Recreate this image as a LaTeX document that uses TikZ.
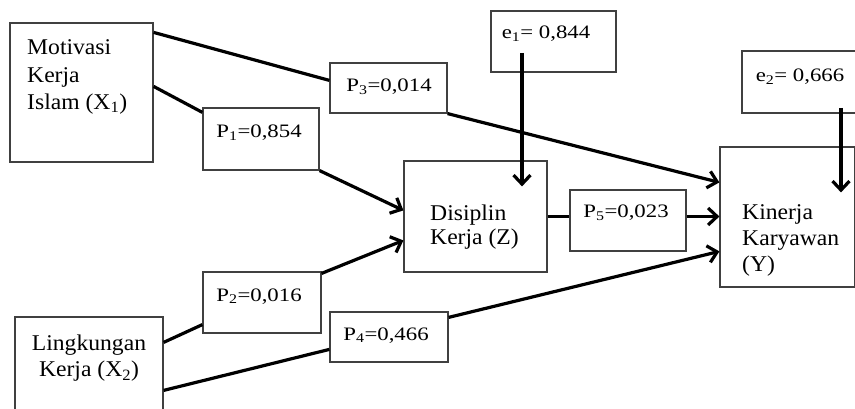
\documentclass[tikz,border=0pt]{standalone}
\usepackage{fontspec}
\setmainfont{Liberation Serif}
\newfontfamily\varfont[FakeStretch=1.05]{Liberation Serif}
\newfontfamily\coeffont[FakeStretch=1.2]{Liberation Serif}
\usetikzlibrary{arrows.meta}

\begin{document}
\begin{tikzpicture}[x=1pt, y=-1pt,
    varbox/.style={draw=black!75, line width=1.2pt, rectangle, inner sep=0pt},
    vartext/.style={font=\varfont\fontsize{22.5}{26.5}\selectfont, inner sep=0pt},
    coef/.style={font=\coeffont\fontsize{19}{22}\selectfont, inner sep=0pt},
    link/.style={line width=3.2pt},
    arr/.style={line width=3.2pt, -{Straight Barb[length=9pt,width=17pt]}}]
    \useasboundingbox (0,0) rectangle (855,409);

    \node[varbox, minimum width=143, minimum height=139] (x1) at (81.5,92.5) {};
    \node[varbox, minimum width=148, minimum height=108] (x2) at (89,371) {};
    \node[varbox, minimum width=143, minimum height=111] (z) at (475.5,216.5) {};
    \node[varbox, minimum width=135, minimum height=140] (y) at (787.5,217) {};

    \node[vartext, anchor=north west, align=left, font=\varfont\fontsize{22.5}{27.5}\selectfont] (x1t) at (27,39.6) {Motivasi\\Kerja\\Islam (X\textsubscript{1})};
    \node[vartext, anchor=north, align=center] (x2t) at (89,334.6) {Lingkungan\\Kerja (X\textsubscript{2})};
    \node[vartext, anchor=north west, align=left, font=\varfont\fontsize{22.5}{24.5}\selectfont] (zt) at (430,204.6) {Disiplin\\Kerja (Z)};
    \node[vartext, anchor=north west, align=left, font=\varfont\fontsize{22.5}{26}\selectfont] (yt) at (742,204.6) {Kinerja\\Karyawan\\(Y)};

    \node[varbox, minimum width=116, minimum height=62] (p1) at (261,139) {};
    \node[varbox, minimum width=118, minimum height=61] (p2) at (262,302.5) {};
    \node[varbox, minimum width=117, minimum height=50] (p3) at (388.5,88) {};
    \node[varbox, minimum width=118, minimum height=50] (p4) at (389,337) {};
    \node[varbox, minimum width=116, minimum height=61] (p5) at (628,220.5) {};
    \node[varbox, minimum width=125, minimum height=61] (e1) at (553.5,41.5) {};
    \node[varbox, minimum width=114, minimum height=62] (e2) at (799,82) {};

    \node[coef, anchor=base] (p1t) at (259,138) {P\textsubscript{1}=0,854};
    \node[coef, anchor=base] (p2t) at (259,301) {P\textsubscript{2}=0,016};
    \node[coef, anchor=base] (p3t) at (389,92) {P\textsubscript{3}=0,014};
    \node[coef, anchor=base] (p4t) at (386,340) {P\textsubscript{4}=0,466};
    \node[coef, anchor=base] (p5t) at (626,218) {P\textsubscript{5}=0,023};
    \node[coef, anchor=base] (e1t) at (546,39) {e\textsubscript{1}= 0,844};
    \node[coef, anchor=base] (e2t) at (800,82) {e\textsubscript{2}= 0,666};

    \draw[link] ([yshift=-10pt]x1.north east) -- ([yshift=-18pt]p3.north west);
    \draw[link] ([yshift=-64pt]x1.north east) -- ([yshift=-5pt]p1.north west);
    \draw[arr] (p1.south east) -- ([yshift=-50pt]z.north west);
    \draw[arr] (p3.south east) -- ([yshift=-36pt]y.north west);
    \draw[arr] ([shift={(-31.5,11.5)}]e1.center) -- ([shift={(46.5,26)}]z.north);
    \draw[arr] ([shift={(42,26)}]e2.center) -- ([shift={(53.5,46)}]y.north);
    \draw[link] (z.east) -- (z.east -| p5.west);
    \draw[arr] (z.east -| p5.east) -- (z.east -| y.west);
    \draw[link] ([yshift=-26pt]x2.north east) -- ([yshift=9pt]p2.south west);
    \draw[arr] ([yshift=-2pt]p2.north east) -- ([yshift=-80pt]z.north west);
    \draw[link] ([yshift=-74pt]x2.north east) -- ([yshift=-38pt]p4.north west);
    \draw[arr] ([yshift=-6pt]p4.north east) -- ([yshift=-105pt]y.north west);
\end{tikzpicture}
\end{document}
